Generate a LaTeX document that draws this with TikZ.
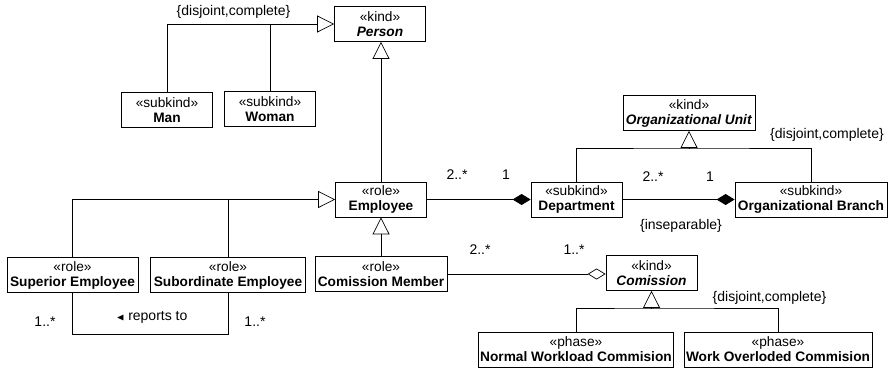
\documentclass[tikz,border=0pt]{standalone}
\usepackage{amssymb}
\usepackage{fontspec}
\setmainfont{Liberation Sans}
\usetikzlibrary{positioning,arrows.meta}
\tikzset{
    cls/.style={rectangle,draw,line width=0.8pt,align=center,minimum width=91pt,minimum height=35pt,inner sep=2pt,font=\fontsize{13.7}{15}\selectfont},
    wide/.style={cls,minimum width=#1},
    link/.style={line width=0.7pt},
    gen/.style={link,-{Triangle[open,length=17pt,width=17pt]}},
    comp/.style={link,-{Diamond[length=18pt,width=11pt]}},
    aggr/.style={link,-{Diamond[open,length=18pt,width=11pt]}},
    lbl/.style={font=\fontsize{14}{15}\selectfont,inner sep=1pt},
}

\begin{document}
\begin{tikzpicture}[x=1pt,y=-1pt]
\useasboundingbox (0,0) rectangle (890,369);
% kinds and subkinds
\node[cls] (Per) at (380,24)    {«kind»\\\textbf{\textit{Person}}};
\node[cls] (Man) at (167,110)   {«subkind»\\\textbf{Man}};
\node[cls] (Wom) at (270,109)   {«subkind»\\\textbf{Woman}};
\node[wide=132pt] (OU) at (689,113) {«kind»\\\textbf{\textit{Organizational Unit}}};
\node[cls] (Dep) at (576.5,199.5) {«subkind»\\\textbf{Department}};
\node[wide=152pt] (Br) at (811,199.5) {«subkind»\\\textbf{Organizational Branch}};

% roles
\node[cls] (Emp) at (381,199.5) {«role»\\\textbf{Employee}};
\node[wide=131pt] (Sup) at (72.5,275) {«role»\\\textbf{Superior Employee}};
\node[wide=155pt] (Sub) at (228,275)  {«role»\\\textbf{Subordinate Employee}};
\node[wide=132pt] (CM)  at (381,274)  {«role»\\\textbf{Comission Member}};

% comission and phases
\node[cls] (Com) at (651.5,273) {«kind»\\\textbf{\textit{Comission}}};
\node[wide=194pt] (Nor) at (576,349.5) {«phase»\\\textbf{Normal Workload Commision}};
\node[wide=188pt] (Ovl) at (778,349.5) {«phase»\\\textbf{Work Overloded Commision}};

% generalizations
\draw[gen] (Man.north) |- (Per.west);
\draw[link] (Wom.north) -- (Wom.north |- Per.west);
\draw[gen] (Emp.north) -- (Emp.north |- Per.south);
\draw[gen] (Sup.north) |- (Emp.west);
\draw[link] (Sub.north) -- (Sub.north |- Emp.west);
\draw[gen] (CM.north) -- (CM.north |- Emp.south);
\coordinate (ouj) at (689,148);
\draw[link] (Dep.north) |- (ouj) -| (Br.north);
\draw[gen] (ouj) -- (OU.south);
\coordinate (cmj) at (651.5,308);
\draw[link] (Nor.north) |- (cmj) -| (Ovl.north);
\draw[gen] (cmj) -- (Com.south);

% associations
\draw[comp] (Emp.east) -- (Dep.west);
\draw[comp] (Dep.east) -- (Br.west);
\draw[aggr] (CM.east) -- (CM.east -| Com.west);
\draw[link] (Sup.south) -- ++(0,41) -| (Sub.south);

% labels
\node[lbl] (gs1) at (233.5,12) {\{disjoint,complete\}};
\node[lbl] (gs2) at (827,135)  {\{disjoint,complete\}};
\node[lbl] (gs3) at (769.5,298) {\{disjoint,complete\}};
\node[lbl] (ins) at (681,226)  {\{inseparable\}};
\node[lbl] (m1) at (457,175) {2..*};
\node[lbl] (m2) at (506,175) {1};
\node[lbl] (m3) at (653,177) {2..*};
\node[lbl] (m4) at (710,177) {1};
\node[lbl] (m5) at (480,250) {2..*};
\node[lbl] (m6) at (574,250) {1..*};
\node[lbl] (m7) at (45,322)  {1..*};
\node[lbl] (m8) at (255,322) {1..*};
\node[lbl] (rep) at (152,317) {{\fontsize{10}{10}\selectfont$\blacktriangleleft$}\ reports to};
\end{tikzpicture}
\end{document}
